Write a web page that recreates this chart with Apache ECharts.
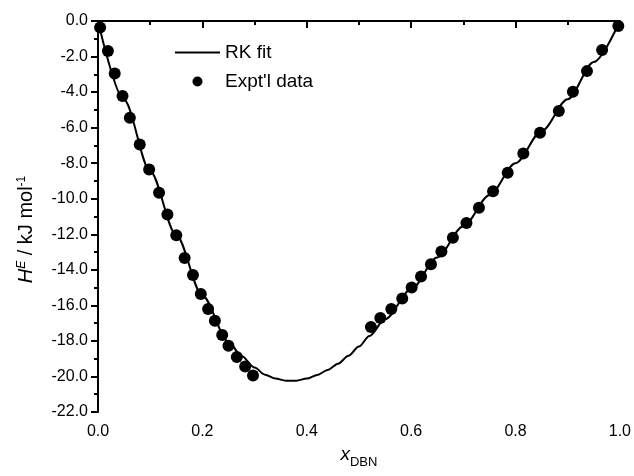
<!DOCTYPE html>
<html>
<head>
<meta charset="utf-8">
<script src="https://cdn.jsdelivr.net/npm/echarts@6/dist/echarts.min.js"></script>
<style>
html, body { margin: 0; padding: 0; background: #fff; }
#chart { width: 634px; height: 476px; }
</style>
</head>
<body>
<div id="chart"></div>
<script>
// experimental points, x_DBN and H^E (kJ/mol)
var exptX = [0.004, 0.019, 0.032, 0.047, 0.061, 0.080, 0.098, 0.117, 0.133, 0.150,
  0.166, 0.182, 0.197, 0.211, 0.224, 0.238, 0.250, 0.266, 0.282, 0.297,
  0.523, 0.541, 0.562, 0.583, 0.601, 0.619, 0.638, 0.658, 0.680, 0.706,
  0.730, 0.757, 0.785, 0.815, 0.847, 0.883, 0.910, 0.937, 0.966, 0.997];
var exptY = [-0.37, -1.69, -2.96, -4.22, -5.44, -6.95, -8.35, -9.67, -10.89, -12.06,
  -13.33, -14.29, -15.36, -16.20, -16.86, -17.67, -18.27, -18.90, -19.44, -19.94,
  -17.22, -16.71, -16.20, -15.62, -15.00, -14.37, -13.69, -12.97, -12.20, -11.36,
  -10.51, -9.58, -8.54, -7.45, -6.29, -5.07, -3.98, -2.82, -1.63, -0.28];

// RK fit curve
var fitX = [0, 0.05, 0.10, 0.15, 0.20, 0.25, 0.275, 0.30, 0.32, 0.34, 0.36, 0.38,
  0.40, 0.42, 0.44, 0.46, 0.48, 0.50, 0.52, 0.55, 0.60, 0.65, 0.70, 0.75,
  0.80, 0.85, 0.90, 0.95, 1.0];
var fitY = [0, -4.45, -8.45, -12.05, -15.45, -18.05, -18.85, -19.5, -19.9, -20.12,
  -20.24, -20.24, -20.12, -19.92, -19.64, -19.28, -18.84, -18.32, -17.72, -16.78,
  -15.1, -13.3, -11.55, -9.8, -8.0, -6.2, -4.4, -2.3, 0];

function pairs(xs, ys) {
  return xs.map(function (x, i) { return [x, ys[i]]; });
}

var chart = echarts.init(document.getElementById('chart'));
var font = 'Liberation Sans, Arial, sans-serif';

var option = {
  animation: false,
  textStyle: { fontFamily: font, color: '#000' },
  grid: { left: 98, right: 12, top: 21, bottom: 64 },
  legend: {
    orient: 'vertical',
    left: 170,
    top: 38,
    itemWidth: 45,
    itemHeight: 10,
    itemGap: 10,
    textStyle: { fontSize: 19, color: '#000', fontFamily: font },
    data: [
      { name: 'RK fit', icon: 'path://M0,0 M0,4 L45,4 L45,6 L0,6 Z M45,10' },
      { name: "Expt'l data", icon: 'circle' }
    ]
  },
  xAxis: {
    type: 'value',
    min: 0, max: 1, interval: 0.2,
    name: '{i|x}{s|DBN}',
    nameLocation: 'middle',
    nameGap: 19,
    nameTextStyle: {
      rich: {
        i: { fontSize: 19, fontStyle: 'italic', fontFamily: font, color: '#000' },
        s: { fontSize: 13, fontFamily: font, color: '#000', verticalAlign: 'bottom', padding: [16, 0, 0, 0] }
      }
    },
    axisLine: { lineStyle: { color: '#000', width: 2 } },
    axisTick: { inside: false, length: 7, lineStyle: { width: 2, color: '#000' } },
    minorTick: { show: true, splitNumber: 2, length: 4, lineStyle: { width: 2, color: '#000' } },
    axisLabel: { fontSize: 16, color: '#000', margin: 12, formatter: function (v) { return v.toFixed(1); } },
    splitLine: { show: false }
  },
  yAxis: {
    type: 'value',
    min: -22, max: 0, interval: 2,
    name: '{i|H}{e|E}{n| / kJ mol}{s|-1}',
    nameLocation: 'middle',
    nameGap: 62,
    nameRotate: 90,
    nameTextStyle: {
      padding: [0, 26, 0, 0],
      rich: {
        i: { fontSize: 20, fontStyle: 'italic', fontFamily: font, color: '#000' },
        e: { fontSize: 12, fontStyle: 'italic', fontFamily: font, color: '#000', verticalAlign: 'top', padding: [0, 0, 8, 0] },
        n: { fontSize: 20, fontFamily: font, color: '#000' },
        s: { fontSize: 12, fontFamily: font, color: '#000', verticalAlign: 'top', padding: [0, 0, 8, 0] }
      }
    },
    axisLine: { show: true, lineStyle: { color: '#000', width: 2 } },
    axisTick: { show: true, inside: false, length: 7, lineStyle: { width: 2, color: '#000' } },
    minorTick: { show: true, splitNumber: 2, length: 4, lineStyle: { width: 2, color: '#000' } },
    axisLabel: { fontSize: 16, color: '#000', margin: 10, formatter: function (v) { return v.toFixed(1); } },
    splitLine: { show: false }
  },
  series: [
    {
      name: 'RK fit',
      type: 'line',
      data: pairs(fitX, fitY),
      smooth: 0.3,
      smoothMonotone: 'x',
      showSymbol: false,
      symbol: 'none',
      lineStyle: { color: '#000', width: 2 },
      itemStyle: { color: '#000' },
      z: 3
    },
    {
      name: "Expt'l data",
      type: 'scatter',
      data: pairs(exptX, exptY),
      symbol: 'circle',
      symbolSize: 12,
      itemStyle: { color: '#000', opacity: 1 },
      z: 4
    }
  ]
};

chart.setOption(option);
</script>
</body>
</html>
